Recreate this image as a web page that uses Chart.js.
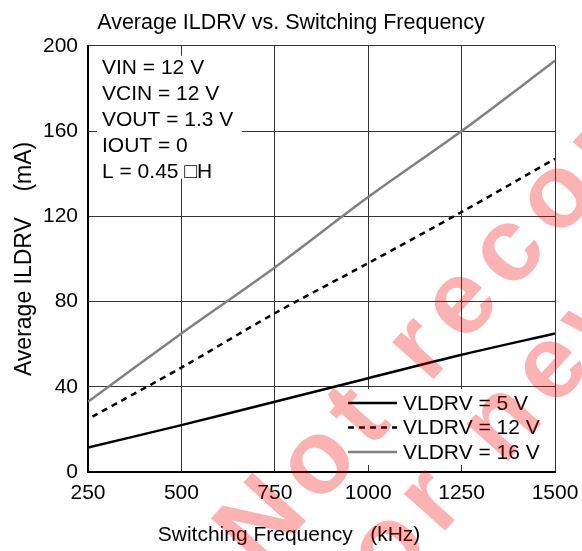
<!DOCTYPE html>
<html><head><meta charset="utf-8">
<script src="https://cdn.jsdelivr.net/npm/chart.js@4"></script>
<style>html,body{margin:0;padding:0;background:#fff}#wrap{width:582px;height:551px}</style>
</head><body><div id="wrap"><canvas id="c" width="582" height="551"></canvas></div>
<script>
const chartTitle = "Average ILDRV vs. Switching Frequency";
const xTitle = "Switching Frequency   (kHz)";
const yTitle = "Average ILDRV    (mA)";
const xTicks = [250, 500, 750, 1000, 1250, 1500];
const yTicks = [0, 40, 80, 120, 160, 200];
const freq5 = [250, 500, 750, 1000, 1250, 1500];
const ildrv5 = [11.5, 22, 33, 44, 55, 65];
const freq12 = [262, 500, 750, 1000, 1250, 1500];
const ildrv12 = [26, 49, 74.5, 98, 122, 147];
const freq16 = [250, 500, 750, 1000, 1250, 1500];
const ildrv16 = [33, 65, 96, 129, 160, 193];
const seriesLabels = ["VLDRV = 5 V", "VLDRV = 12 V", "VLDRV = 16 V"];
const conditions = ["VIN = 12 V", "VCIN = 12 V", "VOUT = 1.3 V", "IOUT = 0", "L = 0.45 \u25A1H"];
const watermark = ["Not recommended", "for new designs"];

const FONT = "'Liberation Sans', Arial, Helvetica, sans-serif";
const pts = (xs, ys) => xs.map((x, i) => ({x: x, y: ys[i]}));

const overlayPlugin = {
  id: 'overlay',
  beforeDatasetsDraw(chart) {
    const ctx = chart.ctx, a = chart.chartArea;
    ctx.save();
    ctx.fillStyle = '#fff';
    ctx.fillRect(a.left + 9, a.top + 10, 145, 123);      // conditions box
    ctx.fillRect(a.right - 210, a.bottom - 83, 207, 76); // legend box
    ctx.restore();
  },
  afterDatasetsDraw(chart) {
    const ctx = chart.ctx, a = chart.chartArea;
    ctx.save();
    ctx.fillStyle = '#000';
    ctx.font = '21px ' + FONT;
    ctx.textBaseline = 'middle';
    ctx.textAlign = 'left';
    conditions.forEach((t, i) => ctx.fillText(t, a.left + 14, a.top + 22 + i * 26));
    chart.data.datasets.forEach((ds, i) => {
      const y = a.bottom - 69 + i * 24.5;
      const x0 = a.right - 207;
      ctx.beginPath();
      ctx.strokeStyle = ds.borderColor;
      ctx.lineWidth = ds.borderWidth;
      ctx.setLineDash(ds.borderDash || []);
      ctx.moveTo(x0, y);
      ctx.lineTo(x0 + 49, y);
      ctx.stroke();
      ctx.setLineDash([]);
      ctx.fillStyle = '#000';
      ctx.fillText(ds.label, x0 + 55, y + 1);
    });
    ctx.restore();
  },
  afterDraw(chart) {
    const ctx = chart.ctx;
    ctx.save();
    ctx.fillStyle = '#000';
    ctx.font = '21px ' + FONT;
    ctx.textAlign = 'center';
    ctx.textBaseline = 'middle';
    ctx.fillText(xTitle, 289, 535);
    ctx.translate(260, 572);
    ctx.rotate(-48 * Math.PI / 180);
    ctx.font = 'bold 105px ' + FONT;
    ctx.letterSpacing = '12px';
    ctx.textAlign = 'left';
    ctx.textBaseline = 'alphabetic';
    ctx.fillStyle = 'rgba(240,0,0,0.3)';
    ctx.fillText(watermark[0], 0, 0);
    ctx.fillText(watermark[1], 24, 110);
    ctx.restore();
  }
};

new Chart(document.getElementById('c'), {
  type: 'line',
  data: {
    datasets: [
      {label: seriesLabels[0], data: pts(freq5, ildrv5), borderColor: '#000', borderWidth: 2.5, pointRadius: 0, tension: 0.3, fill: false},
      {label: seriesLabels[1], data: pts(freq12, ildrv12), borderColor: '#000', borderWidth: 2.5, borderDash: [6, 5], pointRadius: 0, tension: 0.3, fill: false},
      {label: seriesLabels[2], data: pts(freq16, ildrv16), borderColor: '#808080', borderWidth: 2.5, pointRadius: 0, tension: 0.3, fill: false}
    ]
  },
  options: {
    responsive: false,
    animation: false,
    devicePixelRatio: 1,
    layout: {padding: 0},
    plugins: {
      legend: {display: false},
      tooltip: {enabled: false},
      title: {display: true, text: chartTitle, color: '#000', font: {family: FONT, size: 21.5, weight: 'normal'}, padding: {top: 10, bottom: 10}}
    },
    scales: {
      x: {
        type: 'linear', min: xTicks[0], max: xTicks[xTicks.length - 1],
        afterBuildTicks: s => { s.ticks = xTicks.map(v => ({value: v})); },
        afterFit: s => { s.height = 79; s.paddingRight = 27; s.paddingLeft = 0; },
        grid: {color: '#333', lineWidth: 1, drawTicks: false},
        border: {color: '#000', width: 2},
        ticks: {color: '#000', font: {family: FONT, size: 21}, padding: 9, maxRotation: 0, autoSkip: false, callback: v => String(v)}
      },
      y: {
        type: 'linear', min: yTicks[0], max: yTicks[yTicks.length - 1],
        afterBuildTicks: s => { s.ticks = yTicks.map(v => ({value: v})); },
        afterFit: s => { s.width = 88; s.paddingTop = 0; s.paddingBottom = 0; },
        grid: {color: '#333', lineWidth: 1, drawTicks: false},
        border: {color: '#000', width: 2},
        ticks: {color: '#000', font: {family: FONT, size: 21}, padding: 10, callback: v => String(v)},
        title: {display: true, text: yTitle, color: '#000', font: {family: FONT, size: 23}, padding: {top: 11, bottom: 0}}
      }
    }
  },
  plugins: [overlayPlugin]
});
</script>
</body></html>
